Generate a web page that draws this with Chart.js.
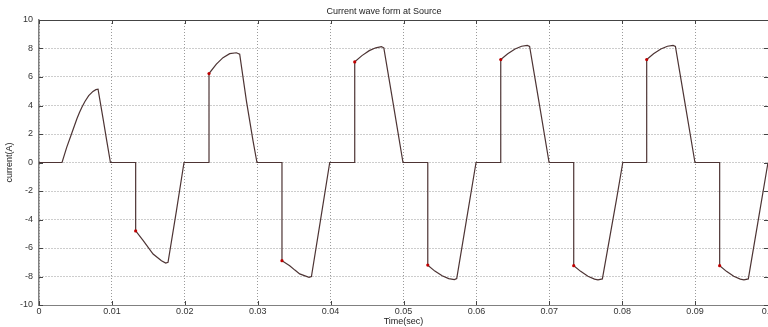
<!DOCTYPE html>
<html>
<head>
<meta charset="utf-8">
<script src="https://cdn.jsdelivr.net/npm/chart.js@4.4.0/dist/chart.umd.min.js"></script>
<style>
  html, body { margin: 0; padding: 0; background: #fff; }
</style>
</head>
<body>
<canvas id="waveChart" width="768" height="327"></canvas>
<script>
// source current
const time = [
    0, 0.00316, 0.0038, 0.00453, 0.0052, 0.00555, 0.0059, 0.0063, 0.00682, 0.0074, 0.0078, 0.0081, 0.0088, 0.0093, 0.0098,
    0.01326, 0.01326, 0.0143, 0.015, 0.01565, 0.0168, 0.01738, 0.0177, 0.01885, 0.01989,
    0.02332, 0.02332, 0.02433, 0.02524, 0.02616, 0.02708, 0.02753, 0.02845, 0.02936, 0.0299,
    0.03333, 0.03333, 0.03439, 0.0351, 0.03576, 0.03704, 0.03737, 0.0386, 0.03988,
    0.04331, 0.04331, 0.0443, 0.0453, 0.0462, 0.04697, 0.0473, 0.0485, 0.04993,
    0.05333, 0.05333, 0.0543, 0.0553, 0.0562, 0.05698, 0.0573, 0.0586, 0.05995,
    0.06334, 0.06334, 0.0643, 0.0653, 0.0662, 0.06698, 0.0673, 0.0686, 0.06997,
    0.07335, 0.07335, 0.0743, 0.0753, 0.0762, 0.07668, 0.07728, 0.0792, 0.08008,
    0.08336, 0.08336, 0.0843, 0.0853, 0.0862, 0.08698, 0.0873, 0.0886, 0.08998,
    0.09337, 0.09337, 0.0943, 0.0953, 0.0962, 0.0967, 0.0973, 0.0986, 0.1
];
const current = [
    0, 0, 1.06, 2.1, 3.07, 3.51, 3.9, 4.28, 4.69, 4.99, 5.11, 5.14, 3.05, 1.5, 0,
    0, -4.8, -5.49, -5.97, -6.42, -6.89, -7.06, -7.0, -3.39, 0,
    0, 6.24, 6.9, 7.36, 7.64, 7.7, 7.6, 4.32, 1.52, 0,
    0, -6.89, -7.24, -7.55, -7.82, -8.06, -8.0, -4.1, 0,
    0, 7.06, 7.5, 7.85, 8.05, 8.13, 8.05, 4.4, 0,
    0, -7.2, -7.62, -7.95, -8.15, -8.22, -8.15, -4.15, 0,
    0, 7.22, 7.63, 7.96, 8.16, 8.22, 8.15, 4.2, 0,
    0, -7.24, -7.64, -7.98, -8.18, -8.24, -8.17, -2.64, 0,
    0, 7.22, 7.63, 7.96, 8.16, 8.22, 8.15, 4.2, 0,
    0, -7.24, -7.64, -7.98, -8.18, -8.24, -8.17, -4.24, 0
];

const xTicks = [0, 0.01, 0.02, 0.03, 0.04, 0.05, 0.06, 0.07, 0.08, 0.09, 0.1];
const yTicks = [-10, -8, -6, -4, -2, 0, 2, 4, 6, 8, 10];

const font = 'Liberation Sans, Arial, sans-serif';

// matlab style box: top edge and inward tick marks
const framePlugin = {
    id: 'frame',
    afterDraw(chart) {
        const {ctx, chartArea: a, scales: {x, y}} = chart;
        ctx.save();
        ctx.strokeStyle = '#444';
        ctx.lineWidth = 1;
        ctx.beginPath();
        ctx.moveTo(a.left, a.top + 0.5);
        ctx.lineTo(a.right, a.top + 0.5);
        x.ticks.forEach(t => {
            const px = Math.round(x.getPixelForValue(t.value)) + 0.5;
            ctx.moveTo(px, a.bottom);
            ctx.lineTo(px, a.bottom - 4);
            ctx.moveTo(px, a.top);
            ctx.lineTo(px, a.top + 4);
        });
        y.ticks.forEach(t => {
            const py = Math.round(y.getPixelForValue(t.value)) + 0.5;
            ctx.moveTo(a.left, py);
            ctx.lineTo(a.left + 4, py);
            ctx.moveTo(a.right, py);
            ctx.lineTo(a.right - 4, py);
        });
        ctx.stroke();
        ctx.restore();
    }
};

const ctx = document.getElementById('waveChart').getContext('2d');

const waveChart = new Chart(ctx, {
    type: 'line',
    data: {
        datasets: [{
            label: 'current',
            data: time.map((t, i) => ({x: t, y: current[i]})),
            borderColor: '#4d3434',
            borderWidth: 1.2,
            tension: 0,
            fill: false,
            // little red dots where the current jumps
            pointRadius: (c) => {
                const i = c.dataIndex;
                return (i > 0 && time[i] === time[i - 1] && current[i - 1] === 0 && current[i] !== 0) ? 1.6 : 0;
            },
            pointBackgroundColor: '#c00000',
            pointBorderColor: '#c00000',
            pointBorderWidth: 0
        }]
    },
    options: {
        responsive: false,
        animation: false,
        layout: { padding: 0 },
        plugins: {
            legend: { display: false },
            tooltip: { enabled: false },
            title: {
                display: true,
                text: 'Current wave form at Source',
                color: '#222',
                font: { family: font, size: 9, weight: 'normal' },
                padding: { top: 6, bottom: 3.2 }
            }
        },
        scales: {
            x: {
                type: 'linear',
                min: 0,
                max: 0.1,
                afterBuildTicks: (s) => { s.ticks = xTicks.map(v => ({value: v})); },
                afterFit: (s) => { s.height = 22; s.paddingLeft = 0; s.paddingRight = 0; },
                ticks: {
                    color: '#333',
                    font: { family: font, size: 9 },
                    padding: 1.5,
                    maxRotation: 0,
                    autoSkip: false,
                    callback: (v) => String(Number(v.toFixed(2)))
                },
                grid: { color: '#9a9a9a', drawTicks: false },
                border: { color: '#808080', width: 1, dash: [1, 2] },
                title: {
                    display: true,
                    text: 'Time(sec)',
                    color: '#222',
                    font: { family: font, size: 9 },
                    padding: { top: 0, bottom: 0 }
                }
            },
            y: {
                min: -10,
                max: 10,
                afterBuildTicks: (s) => { s.ticks = yTicks.map(v => ({value: v})); },
                afterFit: (s) => { s.width = 39; s.paddingTop = 0; s.paddingBottom = 0; },
                ticks: {
                    color: '#333',
                    font: { family: font, size: 9 },
                    padding: 6
                },
                grid: { color: '#9a9a9a', drawTicks: false },
                border: { color: '#808080', width: 1.5, dash: [1, 2] },
                title: {
                    display: true,
                    text: 'current(A)',
                    color: '#222',
                    font: { family: font, size: 9 },
                    padding: { top: 4.6, bottom: 0 }
                }
            }
        }
    },
    plugins: [framePlugin]
});
</script>
</body>
</html>
